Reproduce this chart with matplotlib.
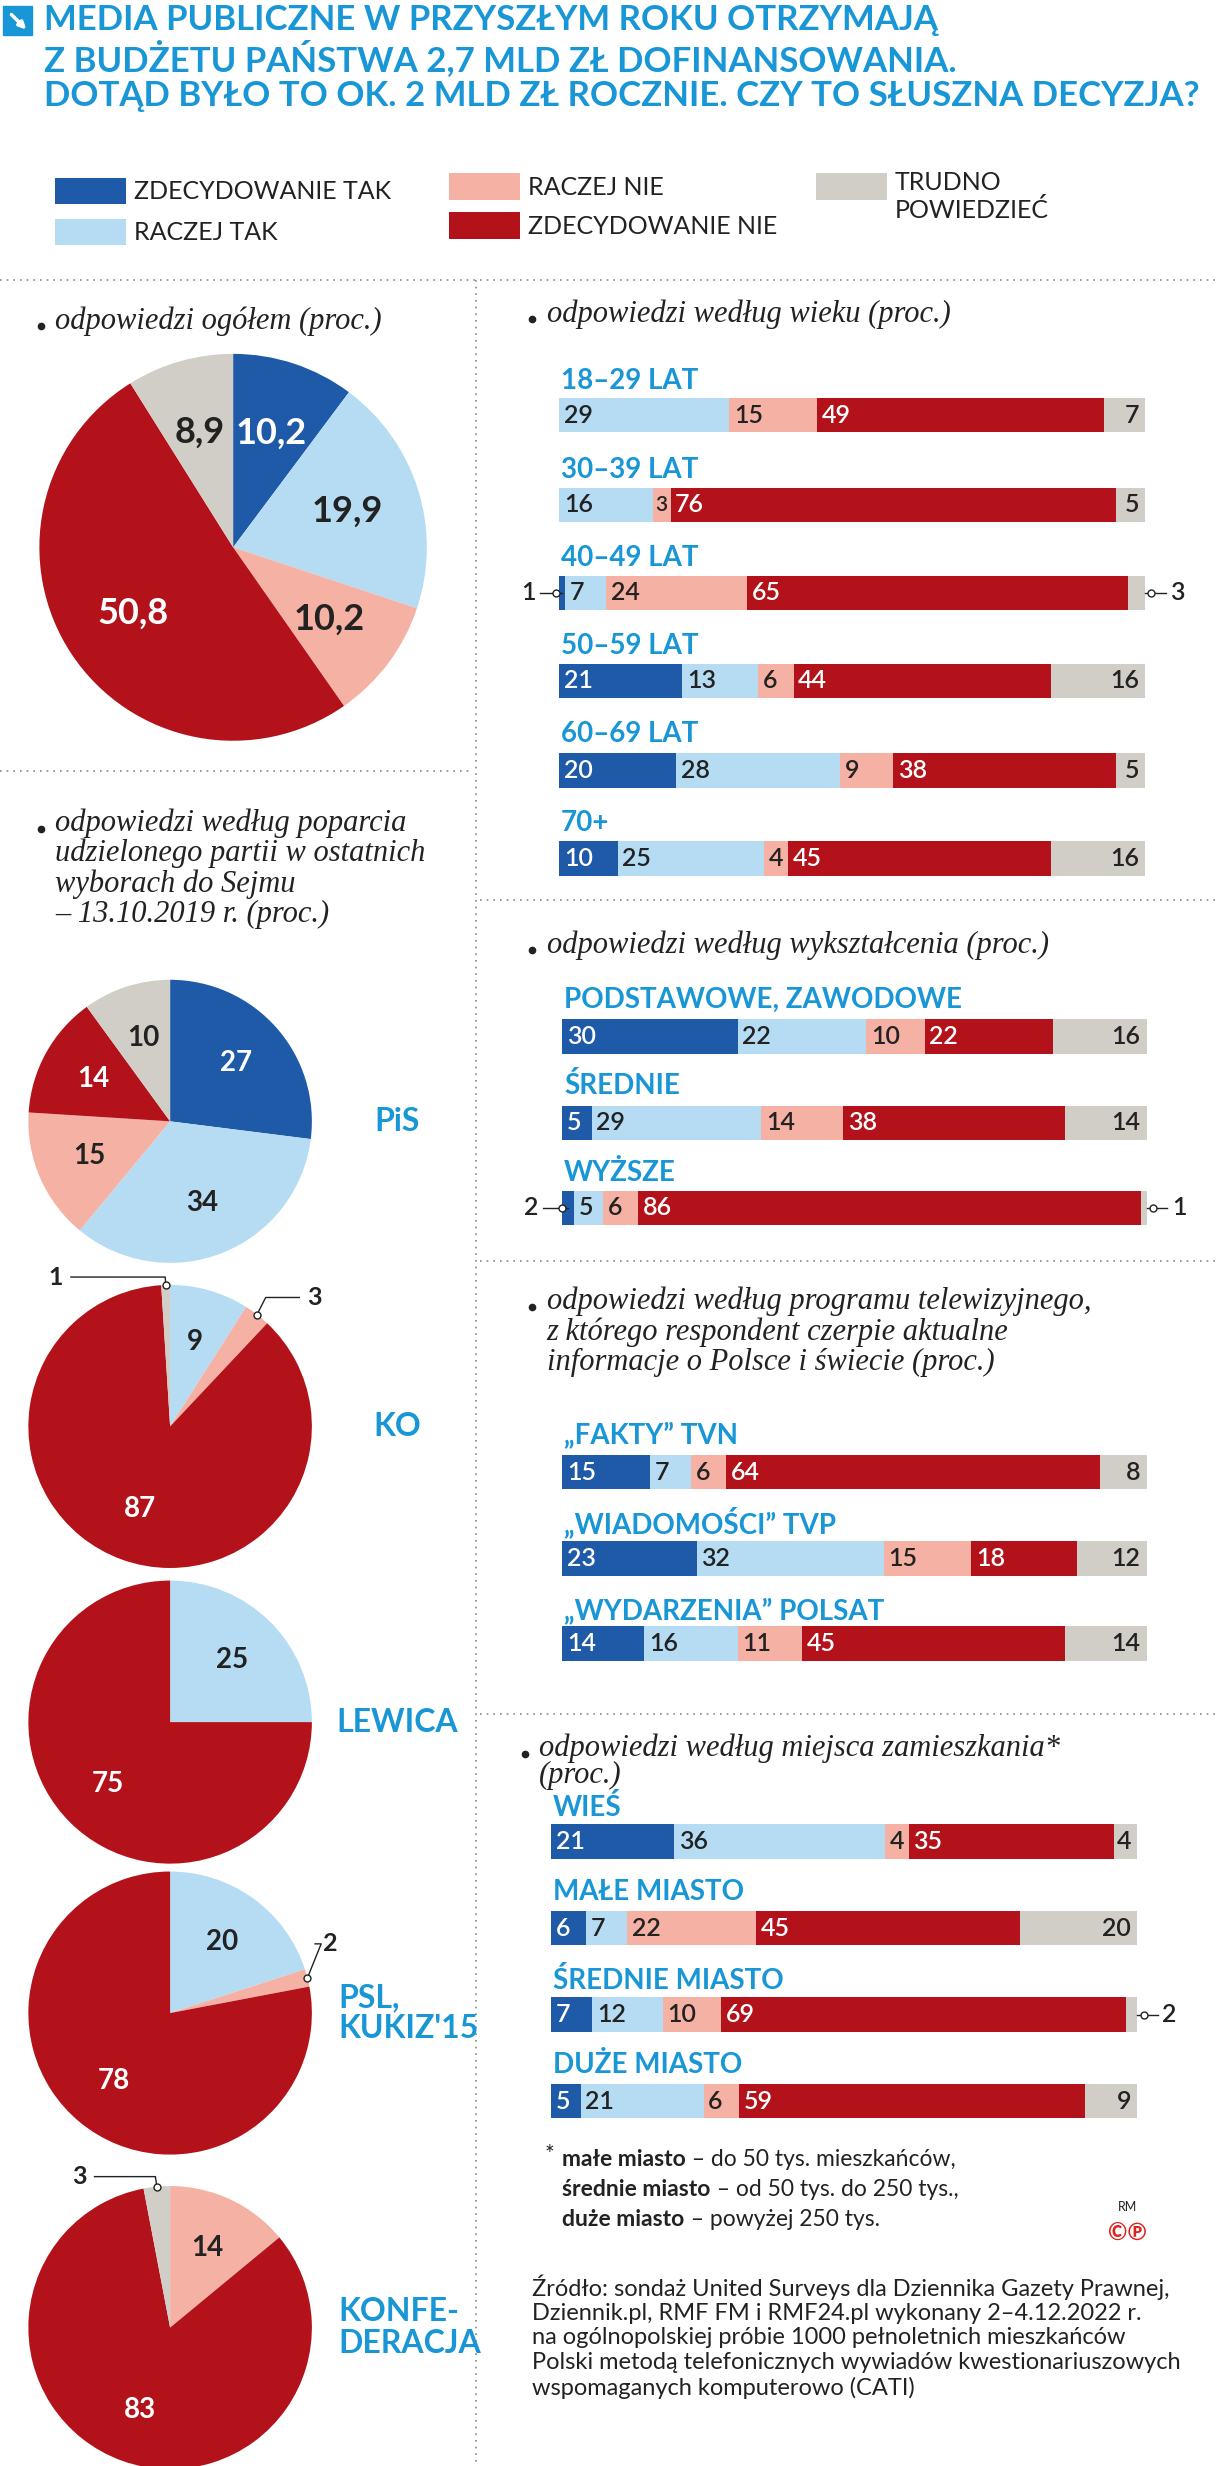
import matplotlib
matplotlib.use("Agg")
import matplotlib.pyplot as plt
import numpy as np
from matplotlib.patches import Rectangle

W, H = 772, 1568
C = ['#1e5aa8', '#b6dcf4', '#f5b1a3', '#b3121b', '#d1cdc7']
CYAN = '#1996d6'
SANS = ['Lato', 'DejaVu Sans']
SERIF = ['Liberation Serif', 'DejaVu Serif']

title_lines = ["MEDIA PUBLICZNE W PRZYSZŁYM ROKU OTRZYMAJĄ",
               "Z BUDŻETU PAŃSTWA 2,7 MLD ZŁ DOFINANSOWANIA.",
               "DOTĄD BYŁO TO OK. 2 MLD ZŁ ROCZNIE. CZY TO SŁUSZNA DECYZJA?"]
legend_labels = ["ZDECYDOWANIE TAK", "RACZEJ TAK", "RACZEJ NIE", "ZDECYDOWANIE NIE", "TRUDNO\nPOWIEDZIEĆ"]

overall = [10.2, 19.9, 10.2, 50.8, 8.9]
party_names = ["PiS", "KO", "LEWICA", "PSL,\nKUKIZ'15", "KONFE-\nDERACJA"]
party_vals = [[27, 34, 15, 14, 10], [0, 9, 3, 87, 1], [0, 25, 0, 75, 0], [0, 20, 2, 78, 0], [0, 0, 14, 83, 3]]

age_labels = ["18–29 LAT", "30–39 LAT", "40–49 LAT", "50–59 LAT", "60–69 LAT", "70+"]
age_vals = [[0, 29, 15, 49, 7], [0, 16, 3, 76, 5], [1, 7, 24, 65, 3], [21, 13, 6, 44, 16], [20, 28, 9, 38, 5], [10, 25, 4, 45, 16]]
edu_labels = ["PODSTAWOWE, ZAWODOWE", "ŚREDNIE", "WYŻSZE"]
edu_vals = [[30, 22, 10, 22, 16], [5, 29, 14, 38, 14], [2, 5, 6, 86, 1]]
tv_labels = ["„FAKTY” TVN", "„WIADOMOŚCI” TVP", "„WYDARZENIA” POLSAT"]
tv_vals = [[15, 7, 6, 64, 8], [23, 32, 15, 18, 12], [14, 16, 11, 45, 14]]
place_labels = ["WIEŚ", "MAŁE MIASTO", "ŚREDNIE MIASTO", "DUŻE MIASTO"]
place_vals = [[21, 36, 4, 35, 4], [6, 7, 22, 45, 20], [7, 12, 10, 69, 2], [5, 21, 6, 59, 9]]

fig = plt.figure(figsize=(12.16, 24.66), dpi=100)
ax = fig.add_axes([0, 0, 1, 1])

def setlim():
    ax.set_xlim(0, W); ax.set_ylim(0, H); ax.set_aspect('auto'); ax.axis('off')
setlim()

def Y(y): return H - y

def txt(x, y, s, **kw):
    kw.setdefault('family', SANS)
    kw.setdefault('color', '#222')
    ax.text(x, Y(y), s, **kw)

# title
ax.add_patch(Rectangle((2, Y(22)), 18, 18, color=CYAN))
ax.annotate('', xy=(18, Y(20)), xytext=(6, Y(8)), arrowprops=dict(arrowstyle='-|>', color='white', lw=2.5))
for i, l in enumerate(title_lines):
    txt(28, 13 + i * 24, l, color=CYAN, fontsize=25, weight='bold', va='center')

# legend
lpos = [(35, 122), (35, 148), (285, 119), (285, 144), (518, 119)]
for (x, y), c, l in zip(lpos, C, legend_labels):
    ax.add_patch(Rectangle((x, Y(y + 8)), 45, 17, color=c, lw=0))
    if '\n' in l:
        txt(x + 50, y - 10, l, fontsize=18, va='top', linespacing=1.2)
    else:
        txt(x + 50, y, l, fontsize=18, va='center')

# separators
dot = dict(color='#888', lw=1.2, ls=(0, (1, 3)))
ax.plot([0, W], [Y(178), Y(178)], **dot)
ax.plot([302, 302], [Y(178), Y(1568)], **dot)
ax.plot([0, 300], [Y(490), Y(490)], **dot)
for yy in [572, 802, 1090]:
    ax.plot([305, W], [Y(yy), Y(yy)], **dot)

HS = 22
def heading(x, y, s):
    ax.plot(x, Y(y + 3), 'o', color='#222', ms=4.5)
    txt(x + 9, y, s, family=SERIF, style='italic', fontsize=HS, va='center')

def mheading(x, y, s, ls=1.05):
    ax.plot(x, Y(y + 13), 'o', color='#222', ms=4.5)
    txt(x + 9, y, s, family=SERIF, style='italic', fontsize=HS, va='top', linespacing=ls)

heading(26, 204, "odpowiedzi ogółem (proc.)")
heading(338, 200, "odpowiedzi według wieku (proc.)")
mheading(26, 514, "odpowiedzi według poparcia\nudzielonego partii w ostatnich\nwyborach do Sejmu\n– 13.10.2019 r. (proc.)")
heading(338, 601, "odpowiedzi według wykształcenia (proc.)")
mheading(338, 818, "odpowiedzi według programu telewizyjnego,\nz którego respondent czerpie aktualne\ninformacje o Polsce i świecie (proc.)")
mheading(333, 1102, "odpowiedzi według miejsca zamieszkania*\n(proc.)", ls=0.92)

def fmt(v):
    return (f"{v:.1f}".replace('.', ',') if isinstance(v, float) else str(v))

def pie(vals, cx, cy, r, fs, outside=None):
    wedges, _ = ax.pie(vals, colors=C, startangle=90, counterclock=False, center=(cx, Y(cy)),
                       radius=r, wedgeprops=dict(lw=0), normalize=True)
    setlim()
    for idx, (w, v) in enumerate(zip(wedges, vals)):
        if v == 0:
            continue
        a = np.deg2rad((w.theta1 + w.theta2) / 2)
        if outside and v in outside:
            tx, ty = outside[v]
            px, py = cx + r * np.cos(a), Y(cy) + r * np.sin(a)
            ax.plot(px, py, 'o', mfc='white', mec='#222', ms=5, zorder=5)
            ax.plot([px, px + 0.1 * r * np.cos(a), tx], [py, Y(ty), Y(ty)], color='#222', lw=1, zorder=4)
            right = tx > cx
            txt(tx + (5 if right else -5), ty, fmt(v), fontsize=fs * 0.9, weight='bold',
                ha='left' if right else 'right', va='center')
            continue
        rr = 0.62 * r
        col = 'white' if idx in (0, 3) else '#222'
        ax.text(cx + rr * np.cos(a), Y(cy) + rr * np.sin(a), fmt(v), fontsize=fs, weight='bold',
                ha='center', va='center', color=col, family=SANS)

pie(overall, 148, 348, 123, 26)
pcs = [(108, 713), (108, 907), (108, 1095), (108, 1280), (108, 1480)]
outs = [None, {1: (45, 812), 3: (190, 825)}, None, {2: (200, 1236)}, {3: (60, 1384)}]
for (cx, cy), vals, nm, o in zip(pcs, party_vals, party_names, outs):
    pie(vals, cx, cy, 90, 20, o)
    if '\n' in nm:
        txt(215, cy, nm, fontsize=23, weight='bold', color=CYAN, ha='left', va='center', linespacing=1.1)
    else:
        txt(252, cy, nm, fontsize=23, weight='bold', color=CYAN, ha='center', va='center')

BF = 18
def bars(labels, data, x0, x1, label_ys, bar_ys):
    for lab, vals, ly, by in zip(labels, data, label_ys, bar_ys):
        txt(x0 + 1, ly, lab, fontsize=20, weight='bold', color=CYAN, va='center')
        sc = (x1 - x0) / sum(vals)
        left = np.concatenate([[0], np.cumsum(vals)[:-1]]) * sc + x0
        ax.barh([Y(by)] * 5, np.array(vals) * sc, left=left, height=22, color=C, lw=0)
        nz = [i for i, v in enumerate(vals) if v > 0]
        for i, v in enumerate(vals):
            if v == 0:
                continue
            col = 'white' if i in (0, 3) else '#222'
            kw = dict(fontsize=BF, weight='semibold', va='center', color=col)
            if v <= 3 and i == nz[0]:
                cxp = left[i] + v * sc / 2
                ax.plot([x0 - 12, cxp], [Y(by), Y(by)], color='#222', lw=1)
                ax.plot(cxp - 4, Y(by), 'o', mfc='white', mec='#222', ms=5, zorder=5)
                kw['color'] = '#222'
                txt(x0 - 15, by, str(v), ha='right', **kw)
            elif v <= 3 and i == nz[-1]:
                cxp = left[i] + v * sc
                ax.plot([cxp, cxp + 13], [Y(by), Y(by)], color='#222', lw=1)
                ax.plot(cxp + 4, Y(by), 'o', mfc='white', mec='#222', ms=5, zorder=5)
                kw['color'] = '#222'
                txt(cxp + 16, by, str(v), ha='left', **kw)
            elif i == len(vals) - 1:
                txt(left[i] + v * sc - 4, by, str(v), ha='right', **kw)
            elif v > 3:
                txt(left[i] + 3, by, str(v), ha='left', **kw)
            else:
                kw['fontsize'] = 15
                txt(left[i] + v * sc / 2, by, str(v), ha='center', **kw)

bars(age_labels, age_vals, 355, 727, [242, 299, 355, 411, 467, 523], [264, 321, 377, 433, 490, 546])
bars(edu_labels, edu_vals, 357, 728, [636, 690, 746], [659, 714, 768])
bars(tv_labels, tv_vals, 357, 728, [912, 968, 1024], [936, 991, 1045])
bars(place_labels, place_vals, 350, 722, [1149, 1203, 1259, 1313], [1171, 1226, 1281, 1336])

# footnote
FF = 16.5
txt(346, 1370, "*", fontsize=FF, va='center')
fn = [("małe miasto", " – do 50 tys. mieszkańców,"),
      ("średnie miasto", " – od 50 tys. do 250 tys.,"),
      ("duże miasto", " – powyżej 250 tys.")]
fig.canvas.draw()
rend = fig.canvas.get_renderer()
for i, (b, r) in enumerate(fn):
    y = 1373 + i * 19
    t = ax.text(357, Y(y), b, fontsize=FF, weight='bold', va='center', family=SANS, color='#222')
    bb = t.get_window_extent(renderer=rend)
    xe = ax.transData.inverted().transform((bb.x1, bb.y0))[0]
    ax.text(xe, Y(y), r, fontsize=FF, va='center', family=SANS, color='#222')

txt(716, 1403, "RM", fontsize=9, ha='center', va='center')
txt(716, 1420, "©℗", fontsize=17, color='#e0201b', ha='center', va='center', weight='bold')

src = ("Źródło: sondaż United Surveys dla Dziennika Gazety Prawnej,\nDziennik.pl, RMF FM i RMF24.pl wykonany 2–4.12.2022 r.\n"
       "na ogólnopolskiej próbie 1000 pełnoletnich mieszkańców\nPolski metodą telefonicznych wywiadów kwestionariuszowych\n"
       "wspomaganych komputerowo (CATI)")
txt(338, 1446, src, fontsize=17, va='top', linespacing=1.2)

setlim()
fig.savefig("out.png", dpi=100)
